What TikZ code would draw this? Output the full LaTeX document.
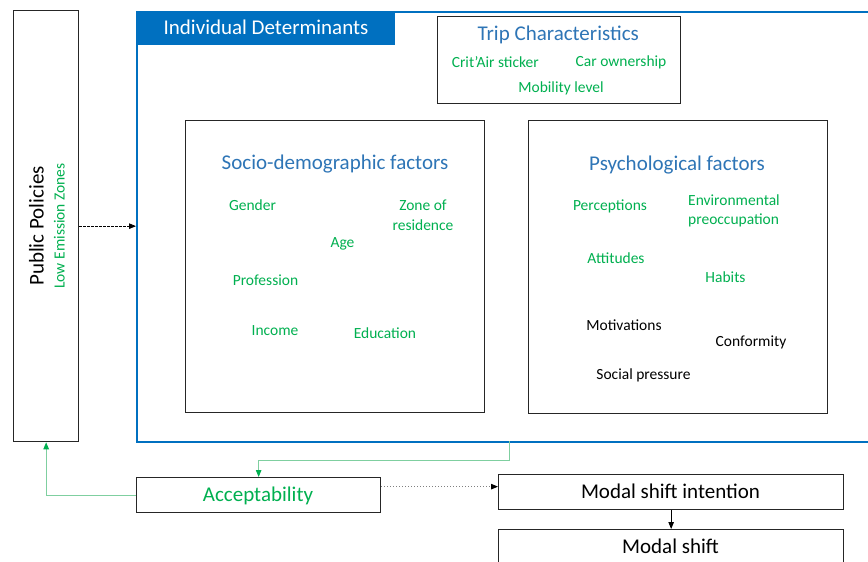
\documentclass[tikz,border=0pt]{standalone}
\usepackage{fontspec}
\setmainfont{Carlito}
\usetikzlibrary{arrows.meta}
\definecolor{tabblue}{HTML}{0070C0}
\definecolor{ttlblue}{HTML}{2E75B6}
\definecolor{grn}{HTML}{00B050}
\definecolor{lgrn}{HTML}{7FCFA0}
\definecolor{bord}{HTML}{262626}
\begin{document}
\begin{tikzpicture}[x=1pt,y=-1pt,
  box/.style={draw=bord,line width=1.3pt,fill=white,inner sep=0pt,anchor=north west},
  big/.style={font=\fontsize{21}{24}\selectfont,anchor=base,inner sep=0pt},
  small/.style={font=\fontsize{15.5}{18}\selectfont,anchor=base,inner sep=0pt},
  gtxt/.style={small,text=grn},
  ktxt/.style={small,text=black},
  ttl/.style={big,text=ttlblue},
  tip/.style={-{Triangle[length=7pt,width=5.5pt]}},
  gline/.style={draw=lgrn,line width=1pt,-{Triangle[length=7pt,width=5.5pt,fill=grn,color=grn]}}]
\useasboundingbox (0,0) rectangle (868,562);
\clip (0,0) rectangle (868,562);
\fill[white] (0,0) rectangle (868,562);

% public policies
\node[box,minimum width=65pt,minimum height=431pt] (pp) at (13,10) {};
\node[big,rotate=90] (ppt) at (43.5,226) {Public Policies};
\node[small,rotate=90,text=grn] (lez) at (64.5,226) {Low Emission Zones};

% individual determinants frame
\node[draw=tabblue,line width=2pt,anchor=north west,minimum width=760pt,minimum height=430pt,inner sep=0pt] (ind) at (136,11) {};
\node[fill=tabblue,anchor=north west,minimum width=259pt,minimum height=34pt,inner sep=0pt] (tab) at (136,11) {};
\node[big,text=white] (tabt) at (266,34.7) {Individual Determinants};

% trip characteristics
\node[box,minimum width=243pt,minimum height=87pt] (trip) at (437,16) {};
\node[ttl] (tript) at (558.3,40) {Trip Characteristics};
\node[gtxt] (crit) at (495.3,67.7) {Crit’Air sticker};
\node[gtxt] (car) at (621,66) {Car ownership};
\node[gtxt] (mob) at (561,92.7) {Mobility level};

% socio-demographic
\node[box,minimum width=299pt,minimum height=292pt] (soc) at (185,120) {};
\node[ttl] (soct) at (335,169.5) {Socio-demographic factors};
\node[gtxt] (gen) at (252.5,210.7) {Gender};
\node[gtxt] (zon1) at (423,210.7) {Zone of};
\node[gtxt] (zon2) at (423,230) {residence};
\node[gtxt] (age) at (342.5,247.3) {Age};
\node[gtxt] (prof) at (265.5,285) {Profession};
\node[gtxt] (inc) at (275,335.7) {Income};
\node[gtxt] (edu) at (385,338.3) {Education};

% psychological
\node[box,minimum width=299pt,minimum height=293pt] (psy) at (528,120) {};
\node[ttl] (psyt) at (677,170) {Psychological factors};
\node[gtxt] (perc) at (610,210.7) {Perceptions};
\node[gtxt,anchor=base west] (env1) at (688,205.7) {Environmental};
\node[gtxt,anchor=base west] (env2) at (688,224.3) {preoccupation};
\node[gtxt] (att) at (616,263.3) {Attitudes};
\node[gtxt] (hab) at (725.5,282.3) {Habits};
\node[ktxt] (mot) at (624,330.7) {Motivations};
\node[ktxt] (conf) at (751,346) {Conformity};
\node[ktxt] (soc2) at (643.5,379.3) {Social pressure};

% bottom boxes
\node[box,minimum width=244pt,minimum height=35pt] (acc) at (136,477) {};
\node[big,text=grn] (acct) at (258,501.7) {Acceptability};
\node[box,minimum width=345pt,minimum height=35pt] (msi) at (498,474) {};
\node[big] (msit) at (670.5,498.3) {Modal shift intention};
\node[box,minimum width=345pt,minimum height=50pt] (ms) at (498,529) {};
\node[big] (mst) at (670.5,553.3) {Modal shift};

% connectors
\draw[tip,line width=0.8pt,dash pattern=on 2.5pt off 1.5pt] (pp.east) -- (pp.east -| ind.west);
\coordinate (gs) at (509.5,441);
\draw[gline] (gs) -- (509.5,460) -| (acc.north);
\draw[gline] (acc.west) -| (pp.south);
\draw[line width=1pt,draw=gray,dotted,-{Triangle[length=7pt,width=5.5pt,color=black]}] ([yshift=8.5pt]acc.east) -- ([yshift=8.5pt]acc.east -| msi.west);
\draw[tip,line width=0.9pt] (msi.south) -- (ms.north);
\end{tikzpicture}
\end{document}
